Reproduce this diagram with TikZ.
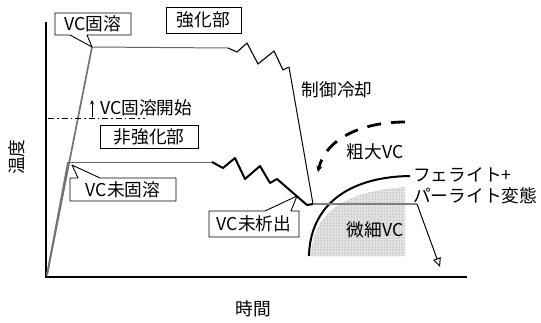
\documentclass[tikz,border=0pt]{standalone}
\usepackage{fontspec}
\setmainfont{Noto Sans CJK JP}
\usetikzlibrary{arrows.meta,patterns}
\begin{document}
\begin{tikzpicture}[x=1pt,y=-1pt,
  font=\fontsize{17.7}{19}\selectfont,
  callout/.style={draw=black, line width=0.9pt, fill=white, line join=round},
  lbl/.style={inner sep=0pt},
  rise/.style={draw=black!55, line width=1.7pt},
  flat/.style={draw=black!60, line width=1pt},
  zig/.style={draw=black, line width=1.1pt, line join=round},
  zigthick/.style={draw=black, line width=2pt, line join=round}]
\useasboundingbox (0,0) rectangle (541,322);

% key coordinates
\coordinate (O) at (47,275);
\coordinate (Y) at (46,22);
\coordinate (X) at (467,277);
\coordinate (Hi) at (92,47);
\coordinate (Lo) at (68,162);
\coordinate (CoolTop) at (289,67);
\coordinate (Join) at (313,204);
\coordinate (HEnd) at (417,204);
\coordinate (ArrEnd) at (440,267);

% shaded fine VC region
\fill[gray!22] (311,256) .. controls (312,222) and (332,192) .. (405,187) -- (405,256) -- cycle;
\fill[pattern=dots, pattern color=black!55] (311,256) .. controls (312,222) and (332,192) .. (405,187) -- (405,256) -- cycle;

% axes
\draw[line width=1.3pt] (Y) -- (46,277) -- (X);

% ferrite + pearlite transformation arc
\draw[line width=2pt] (309,256) .. controls (310,208) and (345,177) .. (410,176);

% upper (strengthened) curve
\draw[rise] (O) -- (Hi);
\draw[flat] (Hi) -- (228,48);
\draw[zig] (228,48) -- (237,52) -- (247,43) -- (258,64) -- (274,51) -- (283,70) -- (CoolTop);
\draw[line width=1pt] (CoolTop) -- (Join);

% lower (non-strengthened) curve
\draw[rise] (O) -- (Lo);
\draw[flat] (Lo) -- (212,162);
\draw[zigthick] (212,162) -- (223,168) -- (235,158) -- (245,179) -- (260,166) -- (270,183) -- (277,179) -- (307,205) -- (Join);

% horizontal through fine VC and final cooling
\draw[black!50, line width=2.6pt] (Join) -- (HEnd);
\draw[line width=1pt, -{Triangle[open, length=9pt, width=8pt]}] (HEnd) -- (ArrEnd);

% VC solution start level
\draw[line width=1pt, dash pattern=on 6pt off 3pt on 1.5pt off 3pt] (48,118) -- (145,118);
\draw[line width=1pt, -{Stealth[length=4.5pt, width=4pt]}] (92,117) -- (92,100);
\node[lbl, anchor=west] (start) at (100,108) {VC固溶開始};

% coarse VC dashed curve
\draw[line width=2.8pt, dash pattern=on 14pt off 10pt, -{Stealth[length=6pt, width=6pt]}]
  (405,122) .. controls (360,122) and (325,140) .. (318,172);

% callouts
\draw[callout] (55,13) -- (131,13) -- (131,35) -- (87,35) -- (Hi) -- (70,35) -- (55,35) -- cycle;
\node[lbl] (vcs) at (93,24) {VC固溶};

\draw[callout] (70,178) -- (78,178) -- (72,165) -- (100,178) -- (176,178) -- (176,201) -- (70,201) -- cycle;
\node[lbl] (vcns) at (123,190) {VC未固溶};

\draw[callout] (209,211) -- (265,211) -- (297,196) -- (291,211) -- (299,211) -- (299,237) -- (209,237) -- cycle;
\node[lbl] (vcnp) at (254,224) {VC未析出};

% boxed labels
\node[draw, line width=0.9pt, minimum width=75pt, minimum height=26pt, inner sep=0pt] (str) at (203.5,20) {強化部};
\node[draw, line width=0.9pt, minimum width=98pt, minimum height=23pt, inner sep=0pt] (nstr) at (149,136.5) {非強化部};

% plain labels
\node[lbl] (ctrl) at (337,90) {制御冷却};
\node[lbl] (coarse) at (375,152) {粗大VC};
\node[lbl] (fine) at (375,230) {微細VC};
\node[lbl, anchor=west] (fp1) at (413,175) {フェライト+};
\node[lbl, anchor=west] (fp2) at (413,196) {パーライト変態};
\node[lbl] (time) at (253,309) {時間};
\node[lbl, rotate=90] (temp) at (17,157) {温度};
\end{tikzpicture}
\end{document}
